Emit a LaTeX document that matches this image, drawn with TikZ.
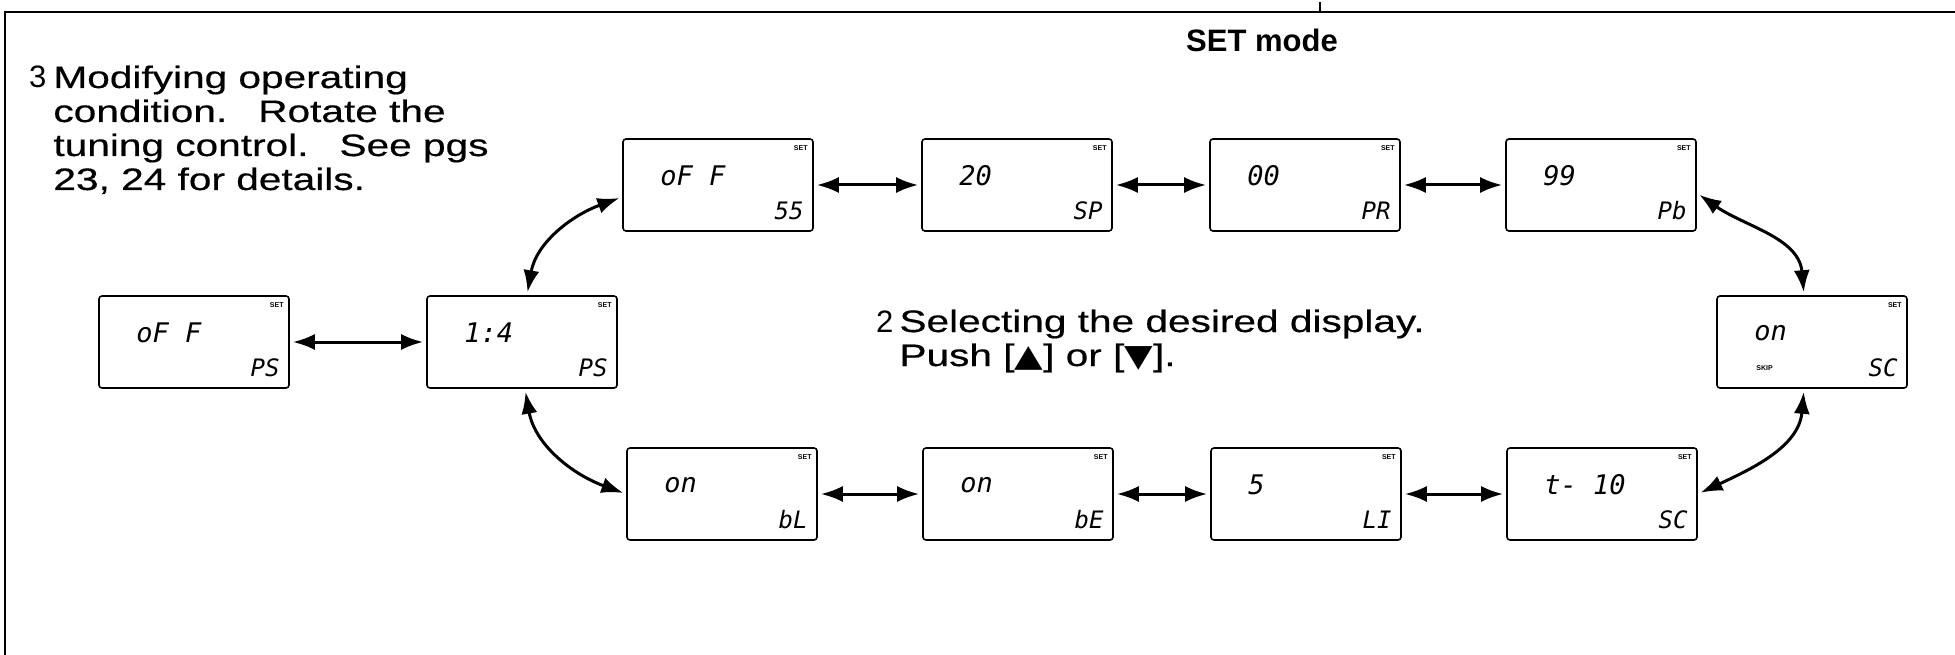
\documentclass[tikz,border=0pt]{standalone}
\usepackage{fontspec}
\setmainfont{Liberation Sans}
\newfontfamily\notefont{Liberation Sans}[FakeStretch=1.31, FakeBold=0.5]
\newfontfamily\lcdfont{DejaVu Sans Mono}
\newfontfamily\symfont{DejaVu Sans}[FakeStretch=1.2]
\usepackage{tikz}
\usetikzlibrary{arrows.meta, positioning}

\begin{document}
\begin{tikzpicture}[
            x=1pt, y=1pt,
            every node/.style={inner sep=0pt},
            lcd/.style={
                rectangle,
                draw=black,
                line width=1.6pt,
                rounded corners=3pt,
                minimum width=190pt,
                minimum height=92pt
            },
            val/.style={anchor=west, xshift=38pt, yshift=9pt,
                font=\lcdfont\itshape\fontsize{27}{27}\selectfont},
            cod/.style={anchor=south east, xshift=-10pt, yshift=12pt,
                font=\lcdfont\itshape\fontsize{24}{24}\selectfont},
            setl/.style={anchor=north east, xshift=-6pt, yshift=-7pt,
                font=\bfseries\fontsize{7}{7}\selectfont},
            skipl/.style={anchor=south west, xshift=40pt, yshift=18pt,
                font=\bfseries\fontsize{7}{7}\selectfont},
            note/.style={anchor=north west, align=left,
                font=\notefont\fontsize{31}{34}\selectfont},
            line/.style={
                draw,
                line width=3pt,
                {Latex[length=22pt,width=16pt]}-{Latex[length=22pt,width=16pt]},
                shorten <=3pt,
                shorten >=3pt
            }
        ]
            \useasboundingbox (0,0) rectangle (1955,-655);

            % --- MARCO ---
            \draw[line width=2pt] (5,-655) -- (5,-12) -- (1955,-12);
            \draw[line width=1.5pt] (1320,-12) -- (1320,-2);

            % --- TEXTOS ---
            \node[font=\bfseries\fontsize{31}{31}\selectfont] (title) at (1262,-40) {SET mode};

            \node[note] (step3) at (29,-64) {\begin{tabular}{@{}l@{\hspace{7pt}}l@{}}
                {\rmfamily 3} & Modifying operating\\
                  & condition.\quad Rotate the\\
                  & tuning control.\quad See pgs\\
                  & 23, 24 for details.
            \end{tabular}};

            \node[note] (step2) at (876,-308) {\begin{tabular}{@{}l@{\hspace{6pt}}l@{}}
                {\rmfamily 2} & Selecting the desired display.\\
                  & Push [{\symfont ▲}] or [{\symfont ▼}].
            \end{tabular}};

            % --- DISPLAYS FILA SUPERIOR ---
            \node[lcd, label={[val]west:oF F}, label={[cod]south east:55},
                label={[setl]north east:SET}] (ss) at (718,-185) {};
            \node[lcd, label={[val]west:20}, label={[cod]south east:SP},
                label={[setl]north east:SET}] (sp) at (1017,-185) {};
            \node[lcd, label={[val]west:00}, label={[cod]south east:PR},
                label={[setl]north east:SET}] (pr) at (1305,-185) {};
            \node[lcd, label={[val]west:99}, label={[cod]south east:Pb},
                label={[setl]north east:SET}] (pb) at (1601,-185) {};

            % --- DISPLAYS FILA CENTRAL ---
            \node[lcd, label={[val]west:oF F}, label={[cod]south east:PS},
                label={[setl]north east:SET}] (psoff) at (194,-342) {};
            \node[lcd, label={[val]west:{1:4}}, label={[cod]south east:PS},
                label={[setl]north east:SET}] (ps) at (522,-342) {};
            \node[lcd, label={[val]west:on}, label={[cod]south east:SC},
                label={[setl]north east:SET}, label={[skipl]south west:SKIP}] (onsc) at (1812,-342) {};

            % --- DISPLAYS FILA INFERIOR ---
            \node[lcd, label={[val]west:on}, label={[cod]south east:bL},
                label={[setl]north east:SET}] (bl) at (722,-494) {};
            \node[lcd, label={[val]west:on}, label={[cod]south east:bE},
                label={[setl]north east:SET}] (be) at (1018,-494) {};
            \node[lcd, label={[val]west:5}, label={[cod]south east:LI},
                label={[setl]north east:SET}] (li) at (1306,-494) {};
            \node[lcd, label={[val]west:t- 10}, label={[cod]south east:SC},
                label={[setl]north east:SET}] (sc) at (1602,-494) {};

            % --- ENLACES ---
            \path[line] (psoff) -- (ps);
            \path[line] (ss) -- (sp);
            \path[line] (sp) -- (pr);
            \path[line] (pr) -- (pb);
            \path[line] (bl) -- (be);
            \path[line] (be) -- (li);
            \path[line] (li) -- (sc);

            \path[line] ([xshift=5pt]ps.north) to[out=80, in=200] ([yshift=-12pt]ss.west);
            \path[line] ([xshift=3pt]ps.south) to[out=-80, in=160] (bl.west);
            \path[line] ([yshift=-8pt]pb.east) to[out=-35, in=95] ([xshift=-8pt]onsc.north);
            \path[line] ([xshift=-8pt]onsc.south) to[out=-95, in=25] (sc.east);
        \end{tikzpicture}
\end{document}
